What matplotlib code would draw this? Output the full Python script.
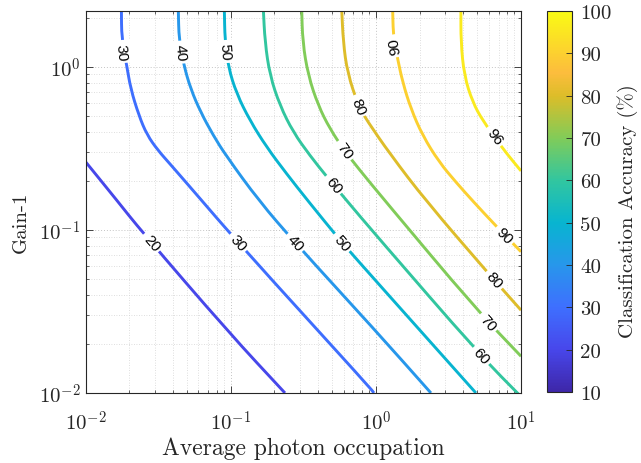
import matplotlib.pyplot as plt
import numpy as np
from matplotlib.colors import LinearSegmentedColormap, Normalize
from matplotlib.cm import ScalarMappable
from matplotlib.ticker import LogLocator, NullFormatter
from matplotlib.path import Path
from matplotlib.patches import PathPatch

plt.rcParams['mathtext.fontset'] = 'cm'

# contour lines: x = average photon occupation, y = gain-1
levels = [20, 30, 40, 50, 60, 70, 80, 90, 96]

c20_x = [0.01, 0.01656, 0.0240, 0.0973, 0.2366]
c20_y = [0.262, 0.1507, 0.0995, 0.02344, 0.01]

c30_x = [0.01767, 0.01774, 0.01923, 0.02048, 0.02333, 0.02652, 0.03157, 0.0382, 0.05768,
         0.1123, 0.911, 0.970]
c30_y = [2.3, 1.485, 1.018, 0.733, 0.5027, 0.3826, 0.3075, 0.254, 0.1664,
         0.0836, 0.01078, 0.01]

c40_x = [0.04355, 0.04406, 0.04766, 0.05302, 0.06215, 0.0760, 0.0928, 0.1567,
         0.2772, 1.0, 2.396]
c40_y = [2.3, 1.45, 1.018, 0.733, 0.527, 0.379, 0.2857, 0.1507,
         0.0836, 0.024, 0.01]

c50_x = [0.0904, 0.0913, 0.0963, 0.110, 0.1358, 0.177, 0.243, 0.3407, 0.5841, 1.0, 4.891]
c50_y = [2.3, 1.45, 0.996, 0.683, 0.4685, 0.3216, 0.2207, 0.1507, 0.0836, 0.0487, 0.01]

c60_x = [0.1677, 0.1723, 0.1865, 0.2185, 0.2699, 0.3516, 0.4604, 0.6323,
         1.0, 5.294, 10.0]
c60_y = [2.3, 1.418, 0.884, 0.579, 0.3974, 0.2857, 0.2114, 0.1507,
         0.0931, 0.01686, 0.0095]

c70_x = [0.3083, 0.3132, 0.3423, 0.4011, 0.483, 0.603, 0.7527, 1.174, 4.891, 10.0]
c70_y = [2.3, 1.418, 0.884, 0.579, 0.4165, 0.3096, 0.2401, 0.1485, 0.03276, 0.0168]

c80_x = [0.5814, 0.5963, 0.6373, 0.7589, 0.8685, 1.251, 2.213, 5.917, 10.0]
c80_y = [2.3, 1.418, 0.919, 0.5765, 0.4685, 0.2926, 0.1507, 0.05449, 0.0322]

c90_x = [1.305, 1.318, 1.360, 1.413, 1.530, 1.745, 2.10, 2.733, 3.563, 4.642,
         6.717, 10.0]
c90_y = [2.3, 1.594, 1.346, 1.12, 0.806, 0.5526, 0.379, 0.2602, 0.1962, 0.1507,
         0.1058, 0.0735]

c96_x = [3.855, 3.855, 4.063, 4.642, 5.466, 7.503, 10.0]
c96_y = [2.3, 1.418, 0.884, 0.607, 0.4665, 0.314, 0.23]

lines_x = [c20_x, c30_x, c40_x, c50_x, c60_x, c70_x, c80_x, c90_x, c96_x]
lines_y = [c20_y, c30_y, c40_y, c50_y, c60_y, c70_y, c80_y, c90_y, c96_y]

# inline labels: (level index, x, y)
label_idx = [0, 1, 1, 2, 2, 3, 3, 4, 4, 5, 5, 6, 6, 7, 7, 8]
label_x = [0.0285, 0.0177, 0.1123, 0.0452, 0.2772, 0.0906, 0.5841, 0.5088, 5.294,
           0.603, 5.917, 0.7589, 6.539, 1.360, 7.661, 6.539]
label_y = [0.0836, 1.24, 0.0836, 1.23, 0.0836, 1.24, 0.0836, 0.1888, 0.01686,
           0.3052, 0.0270, 0.5765, 0.0494, 1.346, 0.0925, 0.374]
label_flip = [False] * 13 + [True, False, False]

xtick_vals = [0.01, 0.1, 1, 10]
xtick_labels = [r'$10^{-2}$', r'$10^{-1}$', r'$10^{0}$', r'$10^{1}$']
ytick_vals = [0.01, 0.1, 1]
ytick_labels = [r'$10^{-2}$', r'$10^{-1}$', r'$10^{0}$']
cbar_ticks = [10, 20, 30, 40, 50, 60, 70, 80, 90, 100]

# parula-like colormap
parula_pos = [0, 1/9, 2/9, 3/9, 4/9, 5/9, 6/9, 7/9, 0.84, 8/9, 1]
parula_rgb = [(0.2422, 0.1504, 0.6603), (0.2803, 0.2782, 0.9221), (0.2440, 0.4358, 0.9988),
              (0.1540, 0.5902, 0.9218), (0.0297, 0.7082, 0.8163), (0.1938, 0.7758, 0.6251),
              (0.5044, 0.7993, 0.3480), (0.8634, 0.7406, 0.1596), (0.99, 0.74, 0.24),
              (0.9892, 0.8136, 0.1885), (0.9769, 0.9839, 0.0805)]
cmap = LinearSegmentedColormap.from_list('parula', list(zip(parula_pos, parula_rgb)))
norm = Normalize(10, 100)


def smooth_path(xs, ys):
    # quadratic bezier through the midpoints (geometric means on log axes)
    xs = np.asarray(xs, float)
    ys = np.asarray(ys, float)
    mx = np.sqrt(xs[:-1] * xs[1:])
    my = np.sqrt(ys[:-1] * ys[1:])
    verts = [(xs[0], ys[0]), (mx[0], my[0])]
    codes = [Path.MOVETO, Path.LINETO]
    for i in range(1, len(xs) - 1):
        verts += [(xs[i], ys[i]), (mx[i], my[i])]
        codes += [Path.CURVE3, Path.CURVE3]
    verts.append((xs[-1], ys[-1]))
    codes.append(Path.LINETO)
    return Path(verts, codes)


fig = plt.figure(figsize=(6.41, 4.64), dpi=100)
ax = fig.add_axes([0.1334, 0.1509, 0.6794, 0.8239])
ax.set_xscale('log')
ax.set_yscale('log')

for lev, xs, ys in zip(levels, lines_x, lines_y):
    ax.add_patch(PathPatch(smooth_path(xs, ys), fill=False, edgecolor=cmap(norm(lev)),
                           lw=2.1, zorder=2, capstyle='butt'))

ax.set_xlim(0.01, 10)
ax.set_ylim(0.01, 2.21)


def label_angle(xs, ys, xl, yl):
    pts = ax.transData.transform(np.column_stack([xs, ys]))
    p = ax.transData.transform((xl, yl))
    d = np.hypot(pts[:, 0] - p[0], pts[:, 1] - p[1])
    i = np.argmin(d)
    j0, j1 = max(i - 1, 0), min(i + 1, len(xs) - 1)
    dx, dy = pts[j1] - pts[j0]
    ang = np.degrees(np.arctan2(dy, dx))
    if ang > 90:
        ang -= 180
    if ang <= -90:
        ang += 180
    return ang


for k, xl, yl, flip in zip(label_idx, label_x, label_y, label_flip):
    ang = label_angle(lines_x[k], lines_y[k], xl, yl)
    if flip:
        ang += 180
    ax.text(xl, yl, str(levels[k]), rotation=ang, rotation_mode='anchor',
            ha='center', va='center', fontsize=11, family='Liberation Sans',
            color='black', zorder=3,
            bbox=dict(boxstyle='square,pad=0.2', fc='white', ec='none'))

ax.set_xticks(xtick_vals, labels=xtick_labels)
ax.set_yticks(ytick_vals, labels=ytick_labels)
ax.xaxis.set_minor_locator(LogLocator(base=10, subs=range(2, 10)))
ax.yaxis.set_minor_locator(LogLocator(base=10, subs=range(2, 10)))
ax.xaxis.set_minor_formatter(NullFormatter())
ax.yaxis.set_minor_formatter(NullFormatter())
ax.tick_params(which='both', direction='in', top=True, right=True, colors='#262626',
               labelsize=15, labelcolor='#262626')
ax.tick_params(which='major', length=5, width=0.6)
ax.tick_params(which='minor', length=2.5, width=0.5)
ax.tick_params(axis='x', which='major', pad=12)
ax.grid(True, which='major', ls=(0, (1, 2)), color='#c4c4c4', lw=0.7)
ax.grid(True, which='minor', ls=(0, (1, 2)), color='#d4d4d4', lw=0.6)
for s in ax.spines.values():
    s.set_color('#262626')
    s.set_linewidth(0.8)

ax.set_xlabel('Average photon occupation', family='cmr10', fontsize=17,
              color='#262626', labelpad=2)
ax.set_ylabel('Gain-1', family='cmr10', fontsize=15, color='#262626')
ax.yaxis.set_label_coords(-0.128, 0.45)

cax = fig.add_axes([0.8534, 0.153, 0.039, 0.8211])
sm = ScalarMappable(norm=norm, cmap=cmap)
cb = fig.colorbar(sm, cax=cax, ticks=cbar_ticks)
cb.outline.set_linewidth(0.8)
cb.outline.set_edgecolor('#262626')
cax.tick_params(direction='in', length=4, width=0.6, colors='#262626', labelsize=15, pad=6)
for t in cax.get_yticklabels():
    t.set_family('cmr10')
cb.set_label('Classification Accuracy (%)', family='cmr10', fontsize=15, color='#262626')
cax.yaxis.set_label_coords(2.80, 0.478)

fig.savefig('out.png', dpi=100)
